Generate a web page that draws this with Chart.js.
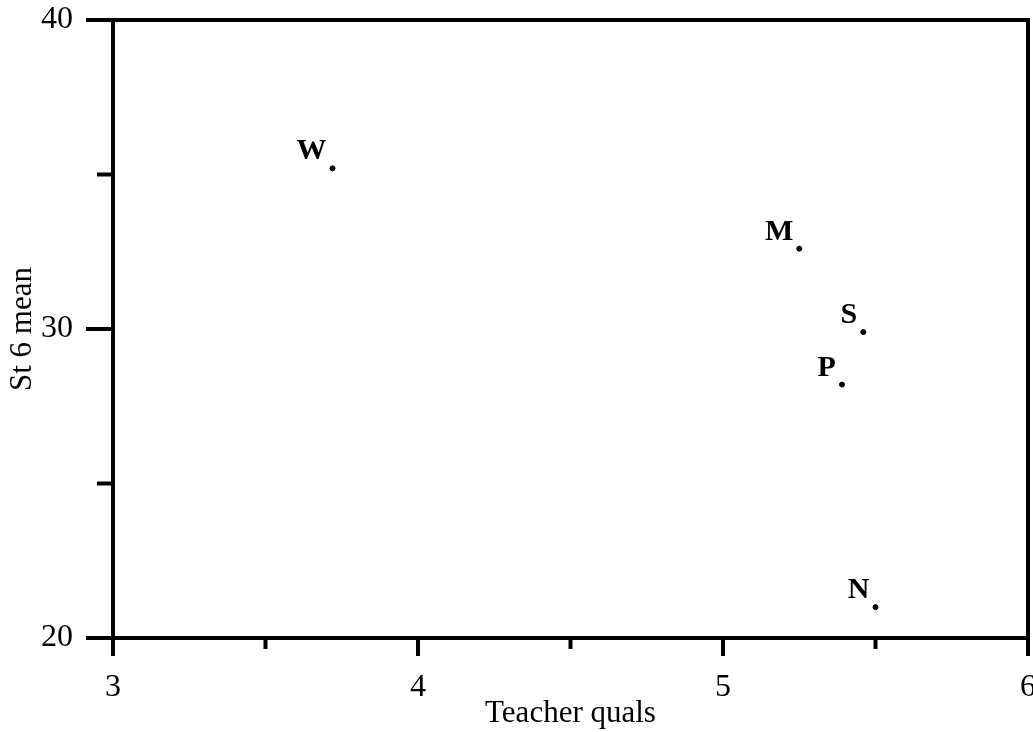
<!DOCTYPE html>
<html>
<head>
<meta charset="utf-8">
<script src="https://cdn.jsdelivr.net/npm/chart.js@4"></script>
<style>
    html, body { margin: 0; padding: 0; background: #fff; }
    #wrap { width: 1033px; height: 732px; position: relative; }
</style>
</head>
<body>
<div id="wrap"><canvas id="qualsChart"></canvas></div>
<script>
// School points: teacher qualifications vs St 6 mean
const schools = ['W', 'M', 'S', 'P', 'N'];
const teacherQuals = [3.72, 5.25, 5.46, 5.39, 5.50];
const st6Mean = [35.2, 32.6, 29.9, 28.2, 21.0];

// axis ticks (integers / multiples of 10 get labels)
const xTicks = [3, 3.5, 4, 4.5, 5, 5.5, 6];
const yTicks = [20, 25, 30, 35, 40];
const xLabelled = [3, 4, 5, 6];
const yLabelled = [20, 30, 40];

const serif = '"Liberation Serif", "DejaVu Serif", serif';

// frame, tick marks and the school letters
const framePlugin = {
    id: 'frame',
    afterDraw: function (chart) {
        const ctx = chart.ctx;
        const area = chart.chartArea;
        const xs = chart.scales.x;
        const ys = chart.scales.y;
        ctx.save();
        ctx.strokeStyle = '#000';
        ctx.lineWidth = 4;
        ctx.strokeRect(area.left, area.top, area.right - area.left, area.bottom - area.top);

        ctx.beginPath();
        xTicks.forEach(v => {
            const x = xs.getPixelForValue(v);
            const len = xLabelled.includes(v) ? 18 : 11;
            ctx.moveTo(x, area.bottom);
            ctx.lineTo(x, area.bottom + len);
        });
        yTicks.forEach(v => {
            const y = ys.getPixelForValue(v);
            const len = yLabelled.includes(v) ? 27 : 16;
            ctx.moveTo(area.left, y);
            ctx.lineTo(area.left - len, y);
        });
        ctx.stroke();

        const meta = chart.getDatasetMeta(0);
        ctx.fillStyle = '#000';
        ctx.font = 'bold 30px ' + serif;
        ctx.textAlign = 'right';
        ctx.textBaseline = 'alphabetic';
        meta.data.forEach((pt, i) => {
            ctx.fillText(schools[i], pt.x - 6, pt.y - 9);
        });
        ctx.restore();
    }
};

const ctx = document.getElementById('qualsChart').getContext('2d');
new Chart(ctx, {
    type: 'scatter',
    data: {
        datasets: [{
            data: teacherQuals.map((q, i) => ({ x: q, y: st6Mean[i] })),
            backgroundColor: '#000',
            borderColor: '#000',
            pointRadius: 2.5
        }]
    },
    options: {
        responsive: true,
        maintainAspectRatio: false,
        animation: false,
        layout: { padding: { top: 20, right: 3, left: 0, bottom: 0 } },
        plugins: {
            legend: { display: false },
            tooltip: { enabled: false }
        },
        scales: {
            x: {
                type: 'linear',
                min: 3,
                max: 6,
                afterFit: function (scale) {
                    scale.height = 94;
                    scale.paddingLeft = 0;
                    scale.paddingRight = 0;
                },
                grid: { display: false },
                border: { display: false },
                ticks: {
                    stepSize: 0.5,
                    autoSkip: false,
                    maxRotation: 0,
                    padding: 22,
                    color: '#000',
                    font: { family: serif, size: 32 },
                    callback: function (v) { return xLabelled.includes(v) ? String(v) : ''; }
                },
                title: {
                    display: true,
                    text: 'Teacher quals',
                    color: '#000',
                    font: { family: serif, size: 31 },
                    padding: { top: 2, bottom: 0 }
                }
            },
            y: {
                type: 'linear',
                min: 20,
                max: 40,
                afterFit: function (scale) {
                    scale.width = 113;
                    scale.paddingTop = 0;
                    scale.paddingBottom = 0;
                },
                grid: { display: false },
                border: { display: false },
                ticks: {
                    stepSize: 5,
                    autoSkip: false,
                    padding: 32,
                    color: '#000',
                    font: { family: serif, size: 32 },
                    callback: function (v) { return yLabelled.includes(v) ? String(v) : ''; }
                },
                title: {
                    display: true,
                    text: 'St 6 mean',
                    color: '#000',
                    font: { family: serif, size: 31 },
                    padding: { top: 4, bottom: 0 }
                }
            }
        }
    },
    plugins: [framePlugin]
});
</script>
</body>
</html>
